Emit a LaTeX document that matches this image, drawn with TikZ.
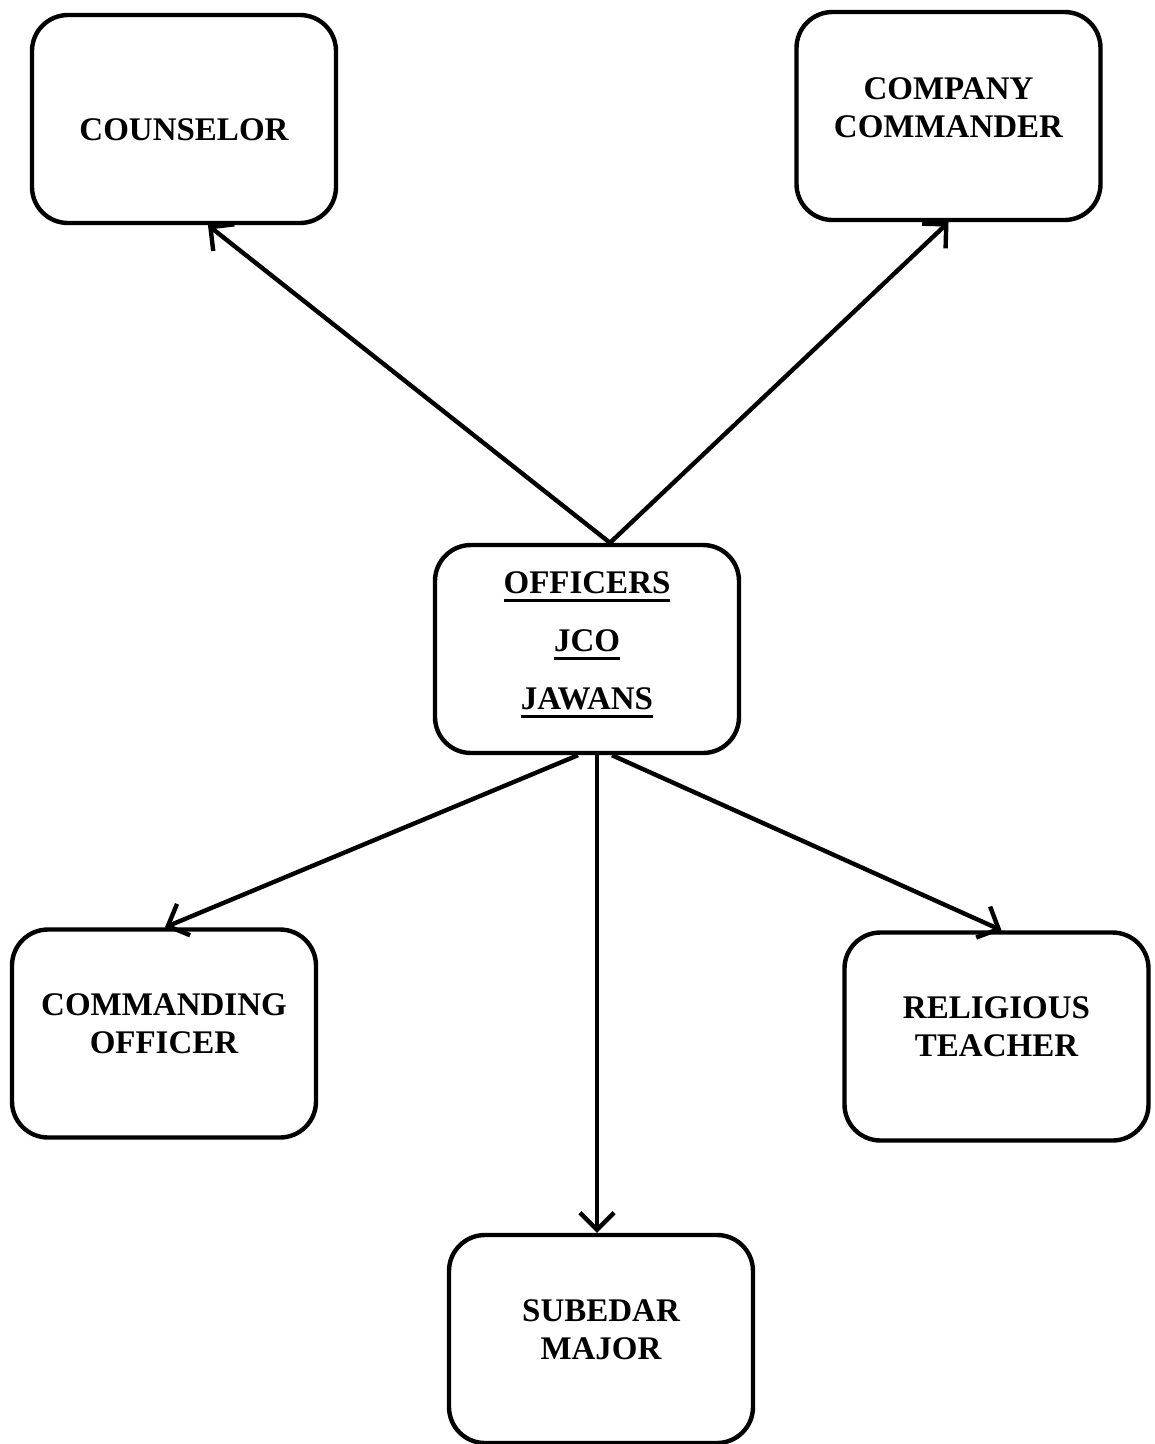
\documentclass[tikz,border=0pt]{standalone}
\usepackage{fontspec}
\setmainfont{Liberation Serif}
\newcommand{\myul}[1]{\setbox0\hbox{#1}\rlap{\raisebox{-8.5pt}{\rule{\wd0}{3pt}}}\box0}
\usetikzlibrary{arrows.meta}
\begin{document}
\begin{tikzpicture}[x=1pt,y=-1pt,
  box/.style={draw, line width=4.4pt, rounded corners=36pt, minimum width=304pt, minimum height=208pt, inner sep=0pt},
  txt/.style={font=\fontsize{33}{38}\selectfont\bfseries, align=center, inner sep=0pt},
  conn/.style={line width=4.4pt, -{Straight Barb[length=17pt,width=34pt,line width=4.4pt]}}]
\useasboundingbox (0,0) rectangle (1155,1444);
\node[box, label={[txt,yshift=-11pt]center:COUNSELOR}] (couns) at (184,119) {};
\node[box, label={[txt,yshift=8pt]center:COMPANY\\COMMANDER}] (comp) at (948.5,116) {};
\node[box, label={[txt,yshift=4.5pt,font=\fontsize{33}{58}\selectfont\bfseries]center:\myul{OFFICERS}\\\myul{JCO}\\\myul{JAWANS}}] (ctr) at (587,649) {};
\node[box, label={[txt,yshift=10pt]center:COMMANDING\\OFFICER}] (co) at (164,1033.5) {};
\node[box, label={[txt,yshift=9.5pt]center:RELIGIOUS\\TEACHER}] (rt) at (996.5,1036.5) {};
\node[box, label={[txt,yshift=9pt]center:SUBEDAR\\MAJOR}] (sm) at (601,1339) {};
\draw[conn] ([xshift=23pt]ctr.north) -- ([xshift=24pt]couns.south);
\draw[conn] ([xshift=23pt]ctr.north) -- (comp.south);
\draw[conn] ([xshift=-9pt]ctr.south) -- ([xshift=1pt]co.north);
\draw[conn] ([xshift=10pt]ctr.south) -- ([xshift=10pt]ctr.south |- sm.north);
\draw[conn] ([xshift=25pt]ctr.south) -- ([xshift=5pt]rt.north);
\end{tikzpicture}
\end{document}
